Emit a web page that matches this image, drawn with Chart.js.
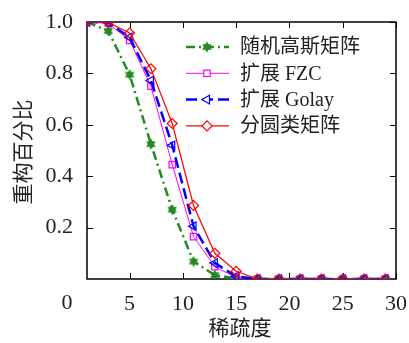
<!DOCTYPE html>
<html>
<head>
<meta charset="utf-8">
<script src="https://cdn.jsdelivr.net/npm/chart.js@4"></script>
<style>
  body { margin: 0; background: #fff; }
  #box { width: 409px; height: 343px; }
</style>
</head>
<body>
<div id="box"><canvas id="c" width="409" height="343"></canvas></div>
<script>
// data
const sparsity = [1, 3, 5, 7, 9, 11, 13, 15, 17, 19, 21, 23, 25, 27, 29];
const gaussian = [1.0, 0.965, 0.795, 0.525, 0.27, 0.068, 0.015, 0.002, 0, 0, 0, 0, 0, 0, 0];
const fzc = [1.0, 0.995, 0.928, 0.75, 0.445, 0.165, 0.048, 0.005, 0, 0, 0, 0, 0, 0, 0];
const golay = [1.0, 0.998, 0.94, 0.772, 0.52, 0.205, 0.062, 0.01, 0, 0, 0, 0, 0, 0, 0];
const cyclotomic = [1.0, 0.998, 0.957, 0.818, 0.605, 0.286, 0.1, 0.03, 0, 0, 0, 0, 0, 0, 0];
const seriesNames = ['随机高斯矩阵', '扩展 FZC', '扩展 Golay', '分圆类矩阵'];
const xTicks = [5, 10, 15, 20, 25, 30];
const yTicks = [0.2, 0.4, 0.6, 0.8, 1.0];

const numFont = "'Liberation Serif', 'DejaVu Serif', serif";
const cjkFont = "'Liberation Serif', 'Noto Sans CJK SC', serif";

// six point star for the gaussian series
function hexagram(color) {
    let cv = document.createElement('canvas');
    cv.width = 12; cv.height = 12;
    let g = cv.getContext('2d');
    g.fillStyle = color;
    let r = 5.5, cx = 6, cy = 6;
    for (let k = 0; k < 2; k++) {
        g.beginPath();
        for (let j = 0; j < 3; j++) {
            let a = -Math.PI / 2 + k * Math.PI + j * 2 * Math.PI / 3;
            let px = cx + r * Math.cos(a), py = cy + r * Math.sin(a);
            if (j == 0) g.moveTo(px, py); else g.lineTo(px, py);
        }
        g.closePath();
        g.fill();
    }
    return cv;
}
const star = hexagram('#228b22');

const pts = (arr) => sparsity.map((x, i) => ({x: x, y: arr[i]}));

const sets = [
    {label: seriesNames[0], data: pts(gaussian), borderColor: '#228b22', backgroundColor: '#228b22',
     borderWidth: 2.5, borderDash: [9, 4, 2, 4], pointStyle: star, pointRadius: 5, order: 3},
    {label: seriesNames[1], data: pts(fzc), borderColor: '#ff00ff', backgroundColor: 'rgba(0,0,0,0)',
     borderWidth: 1, pointStyle: 'rect', pointRadius: 4.5, pointBorderWidth: 1.2, order: 2},
    {label: seriesNames[2], data: pts(golay), borderColor: '#0000ff', backgroundColor: 'rgba(0,0,0,0)',
     borderWidth: 2.5, borderDash: [11, 5], pointStyle: 'triangle', pointRotation: -90, pointRadius: 5,
     pointBorderWidth: 1.2, order: 1},
    {label: seriesNames[3], data: pts(cyclotomic), borderColor: '#ff0000', backgroundColor: 'rgba(0,0,0,0)',
     borderWidth: 1.2, pointStyle: 'rectRot', pointRadius: 5, pointBorderWidth: 1.2, order: 0}
];

// frame, inward ticks, legend and axis titles
const extras = {
    id: 'extras',
    beforeDatasetsDraw(chart) {
        let ctx = chart.ctx, a = chart.chartArea;
        let xs = chart.scales.x, ys = chart.scales.y;
        ctx.save();
        ctx.strokeStyle = '#000';
        ctx.lineWidth = 1;
        ctx.beginPath();
        xTicks.forEach(v => {
            let p = Math.round(xs.getPixelForValue(v)) + 0.5;
            ctx.moveTo(p, a.bottom); ctx.lineTo(p, a.bottom - 6);
            ctx.moveTo(p, a.top); ctx.lineTo(p, a.top + 6);
        });
        yTicks.forEach(v => {
            let p = Math.round(ys.getPixelForValue(v)) + 0.5;
            ctx.moveTo(a.left, p); ctx.lineTo(a.left + 6, p);
            ctx.moveTo(a.right, p); ctx.lineTo(a.right - 6, p);
        });
        ctx.stroke();
        ctx.lineWidth = 1.5;
        ctx.strokeRect(a.left, a.top, a.right - a.left, a.bottom - a.top);
        ctx.restore();
    },
    afterDraw(chart) {
        let ctx = chart.ctx, a = chart.chartArea;
        ctx.save();
        // stray "0" label left of the plot
        ctx.fillStyle = '#222';
        ctx.font = '22px ' + numFont;
        ctx.textAlign = 'center';
        ctx.textBaseline = 'middle';
        ctx.fillText('0', 67, 303);

        // legend
        chart.data.datasets.forEach((ds, i) => {
            let y = 47 + i * 26.3;
            ctx.save();
            ctx.strokeStyle = ds.borderColor;
            ctx.lineWidth = ds.borderWidth;
            ctx.setLineDash(ds.borderDash || []);
            ctx.beginPath();
            ctx.moveTo(186, y); ctx.lineTo(229, y);
            ctx.stroke();
            ctx.setLineDash([]);
            ctx.fillStyle = '#fff';
            ctx.lineWidth = ds.pointBorderWidth || 1;
            if (typeof ds.pointStyle !== 'string') ctx.fillStyle = ds.backgroundColor;
            Chart.helpers.drawPoint(ctx, {pointStyle: ds.pointStyle, radius: ds.pointRadius,
                rotation: ds.pointRotation || 0, borderWidth: ds.pointBorderWidth || 1}, 207, y);
            ctx.restore();
            ctx.fillStyle = '#222';
            ctx.font = '20px ' + cjkFont;
            ctx.textAlign = 'left';
            ctx.textBaseline = 'middle';
            ctx.fillText(ds.label, 240, y + 1);
        });

        // axis titles
        ctx.font = "21px 'Noto Sans CJK SC', sans-serif";
        ctx.textAlign = 'center';
        ctx.textBaseline = 'middle';
        ctx.fillText('稀疏度', 240, 327);
        ctx.translate(22, 152);
        ctx.rotate(-Math.PI / 2);
        ctx.fillText('重构百分比', 0, 0);
        ctx.restore();
    }
};

new Chart(document.getElementById('c'), {
    type: 'line',
    data: {datasets: sets},
    options: {
        responsive: false,
        animation: false,
        layout: {padding: {top: 22, right: 13, left: 0, bottom: 0}},
        plugins: {legend: {display: false}, tooltip: {enabled: false}},
        elements: {line: {tension: 0}},
        scales: {
            x: {
                type: 'linear', min: 1, max: 30,
                grid: {display: false, drawTicks: false},
                border: {display: false},
                afterBuildTicks: s => { s.ticks = xTicks.map(v => ({value: v})); },
                afterFit: s => { s.height = 64; s.paddingLeft = 0; s.paddingRight = 0; },
                ticks: {color: '#222', font: {family: numFont, size: 22}, padding: 12, maxRotation: 0}
            },
            y: {
                type: 'linear', min: 0, max: 1,
                grid: {display: false, drawTicks: false},
                border: {display: false},
                afterBuildTicks: s => { s.ticks = yTicks.map(v => ({value: v})); },
                afterFit: s => { s.width = 87; s.paddingTop = 0; s.paddingBottom = 0; },
                ticks: {color: '#222', font: {family: numFont, size: 22}, padding: 14,
                        callback: v => v.toFixed(1)}
            }
        }
    },
    plugins: [extras]
});
</script>
</body>
</html>
